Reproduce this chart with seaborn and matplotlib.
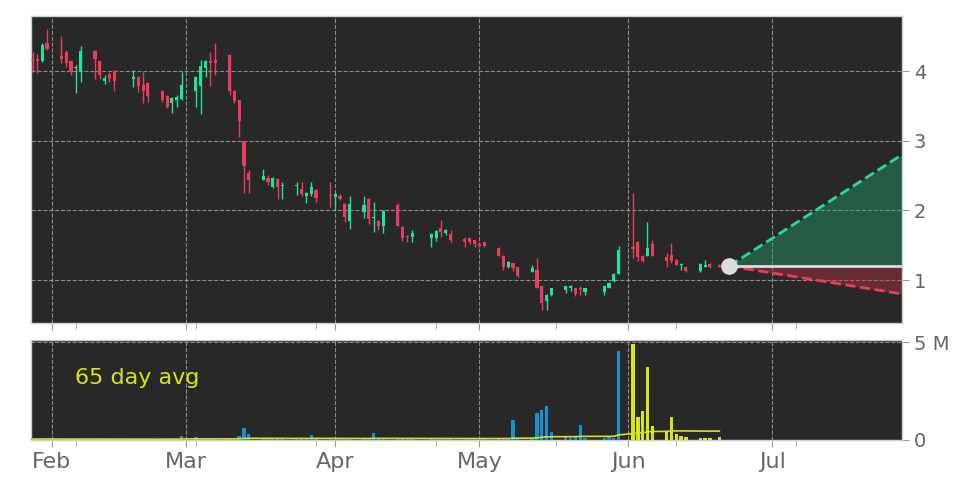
import numpy as np
import pandas as pd
import matplotlib
matplotlib.use("Agg")
import matplotlib.pyplot as plt
import matplotlib.dates as mdates
from matplotlib.ticker import MultipleLocator, FuncFormatter
import seaborn as sns

# ======================
# DATA
# ======================
dates = [
    "2025-01-28", "2025-01-29", "2025-01-30", "2025-01-31",
    "2025-02-03", "2025-02-04", "2025-02-05", "2025-02-06", "2025-02-07",
    "2025-02-10", "2025-02-11", "2025-02-12", "2025-02-13", "2025-02-14",
    "2025-02-18", "2025-02-19", "2025-02-20", "2025-02-21",
    "2025-02-24", "2025-02-25", "2025-02-26", "2025-02-27", "2025-02-28",
    "2025-03-03", "2025-03-04", "2025-03-05", "2025-03-06", "2025-03-07",
    "2025-03-10", "2025-03-11", "2025-03-12", "2025-03-13", "2025-03-14",
    "2025-03-17", "2025-03-18", "2025-03-19", "2025-03-20", "2025-03-21",
    "2025-03-24", "2025-03-25", "2025-03-26", "2025-03-27", "2025-03-28",
    "2025-03-31", "2025-04-01", "2025-04-02", "2025-04-03", "2025-04-04",
    "2025-04-07", "2025-04-08", "2025-04-09", "2025-04-10", "2025-04-11",
    "2025-04-14", "2025-04-15", "2025-04-16", "2025-04-17",
    "2025-04-21", "2025-04-22", "2025-04-23", "2025-04-24", "2025-04-25",
    "2025-04-28", "2025-04-29", "2025-04-30", "2025-05-01", "2025-05-02",
    "2025-05-05", "2025-05-06", "2025-05-07", "2025-05-08", "2025-05-09",
    "2025-05-12", "2025-05-13", "2025-05-14", "2025-05-15", "2025-05-16",
    "2025-05-19", "2025-05-20", "2025-05-21", "2025-05-22", "2025-05-23",
    "2025-05-27", "2025-05-28", "2025-05-29", "2025-05-30",
    "2025-06-02", "2025-06-03", "2025-06-04", "2025-06-05", "2025-06-06",
    "2025-06-09", "2025-06-10", "2025-06-11", "2025-06-12", "2025-06-13",
    "2025-06-16", "2025-06-17", "2025-06-18", "2025-06-20",
]
opens = [
    4.18, 4.18, 4.15, 4.40,
    4.21, 4.28, 4.14, 4.04, 3.98,
    4.29, 4.14, 3.86, 3.96, 4.00,
    3.89, 3.92, 3.80, 3.83,
    3.72, 3.64, 3.54, 3.59, 3.60,
    3.71, 3.78, 4.05, 4.14, 4.16,
    4.23, 3.72, 3.58, 2.99, 2.54,
    2.43, 2.47, 2.33, 2.45, 2.35,
    2.35, 2.31, 2.20, 2.23, 2.29,
    2.22, 2.19, 2.21, 2.09, 1.85,
    1.97, 2.17, 1.89, 1.85, 1.78,
    2.08, 1.76, 1.63, 1.62,
    1.61, 1.60, 1.74, 1.68, 1.66,
    1.59, 1.61, 1.57, 1.51, 1.54,
    1.46, 1.34, 1.18, 1.24, 1.18,
    1.12, 1.15, 0.91, 0.70, 0.78,
    0.86, 0.89, 0.88, 0.89, 0.83,
    0.83, 0.89, 0.98, 1.09,
    1.48, 1.54, 1.35, 1.35, 1.52,
    1.33, 1.36, 1.29, 1.21, 1.18,
    1.13, 1.18, 1.23, 1.22,
]
highs = [
    4.28, 4.25, 4.40, 4.61,
    4.50, 4.30, 4.16, 4.09, 4.36,
    4.30, 4.15, 3.94, 3.99, 4.01,
    4.01, 3.93, 3.99, 3.85,
    3.73, 3.65, 3.63, 3.65, 3.99,
    3.93, 4.16, 4.16, 4.28, 4.40,
    4.24, 3.73, 3.59, 3.00, 2.58,
    2.60, 2.51, 2.48, 2.46, 2.40,
    2.41, 2.41, 2.27, 2.41, 2.30,
    2.40, 2.25, 2.24, 2.10, 2.20,
    2.20, 2.18, 2.12, 1.86, 2.00,
    2.11, 1.77, 1.65, 1.72,
    1.67, 1.72, 1.86, 1.73, 1.72,
    1.62, 1.61, 1.58, 1.55, 1.55,
    1.47, 1.36, 1.27, 1.25, 1.19,
    1.22, 1.32, 0.92, 0.80, 0.89,
    0.92, 0.93, 0.89, 0.91, 0.89,
    0.92, 0.97, 1.10, 1.49,
    2.25, 1.56, 1.36, 1.84, 1.57,
    1.39, 1.53, 1.30, 1.24, 1.19,
    1.24, 1.29, 1.24, 1.23,
]
lows = [
    3.98, 3.97, 4.13, 4.30,
    4.11, 4.06, 3.94, 3.69, 3.85,
    3.89, 3.89, 3.81, 3.85, 3.72,
    3.77, 3.70, 3.54, 3.56,
    3.56, 3.47, 3.40, 3.48, 3.58,
    3.48, 3.39, 3.92, 3.78, 3.94,
    3.65, 3.54, 3.05, 2.25, 2.25,
    2.43, 2.36, 2.32, 2.17, 2.16,
    2.22, 2.21, 2.10, 2.20, 2.12,
    2.05, 2.00, 2.15, 1.84, 1.73,
    1.89, 1.81, 1.69, 1.72, 1.67,
    1.77, 1.56, 1.55, 1.55,
    1.48, 1.56, 1.62, 1.65, 1.55,
    1.48, 1.52, 1.47, 1.47, 1.47,
    1.34, 1.14, 1.17, 1.13, 1.05,
    1.12, 0.88, 0.57, 0.57, 0.77,
    0.81, 0.84, 0.77, 0.78, 0.78,
    0.78, 0.88, 0.97, 1.08,
    1.31, 1.27, 1.26, 1.34, 1.34,
    1.18, 1.24, 1.21, 1.14, 1.12,
    1.12, 1.18, 1.17, 1.18,
]
closes = [
    4.16, 4.15, 4.38, 4.31,
    4.18, 4.11, 3.99, 4.06, 4.29,
    4.17, 3.94, 3.90, 3.88, 3.86,
    3.90, 3.78, 3.72, 3.64,
    3.58, 3.49, 3.62, 3.63, 3.80,
    3.92, 4.07, 4.15, 4.12, 4.12,
    3.72, 3.57, 3.29, 2.63, 2.44,
    2.49, 2.41, 2.47, 2.33, 2.37,
    2.36, 2.23, 2.25, 2.33, 2.18,
    2.20, 2.24, 2.17, 1.91, 2.09,
    2.08, 1.88, 1.90, 1.78, 1.99,
    1.78, 1.60, 1.62, 1.68,
    1.66, 1.71, 1.69, 1.72, 1.57,
    1.54, 1.55, 1.52, 1.49, 1.49,
    1.35, 1.18, 1.26, 1.17, 1.06,
    1.17, 0.89, 0.67, 0.79, 0.88,
    0.91, 0.91, 0.80, 0.87, 0.88,
    0.91, 0.96, 1.09, 1.43,
    1.45, 1.33, 1.28, 1.46, 1.35,
    1.28, 1.28, 1.22, 1.23, 1.13,
    1.23, 1.22, 1.18, 1.19,
]
volumes_m = [
    0.05, 0.04, 0.06, 0.05,
    0.04, 0.03, 0.05, 0.04, 0.06,
    0.05, 0.04, 0.03, 0.04, 0.05,
    0.03, 0.04, 0.05, 0.04,
    0.04, 0.05, 0.06, 0.05, 0.22,
    0.17, 0.06, 0.05, 0.04, 0.05,
    0.08, 0.07, 0.20, 0.60, 0.29,
    0.05, 0.04, 0.05, 0.04, 0.05,
    0.04, 0.05, 0.04, 0.26, 0.05,
    0.04, 0.05, 0.04, 0.05, 0.06,
    0.05, 0.06, 0.37, 0.05, 0.04,
    0.05, 0.04, 0.03, 0.04,
    0.04, 0.05, 0.04, 0.03, 0.04,
    0.05, 0.04, 0.05, 0.04, 0.05,
    0.06, 0.08, 0.07, 1.02, 0.09,
    0.10, 1.39, 1.53, 1.73, 0.43,
    0.14, 0.12, 0.13, 0.77, 0.12,
    0.12, 0.13, 0.12, 4.54,
    4.93, 1.19, 1.48, 3.74, 0.73,
    0.46, 1.19, 0.32, 0.22, 0.17,
    0.12, 0.12, 0.12, 0.17,
]
highlight_from = "2025-06-01"   # volume bars from here on drawn in yellow
avg_window = 65

# projection cone
proj_start = "2025-06-22"
proj_end = "2025-07-28"
proj_base = 1.20
proj_high = 2.80
proj_low = 0.80

x_range = ("2025-01-27 16:00", "2025-07-28 00:00")
price_range = (0.38, 4.79)
volume_range = (0, 5.1e6)

# ======================
# STYLE
# ======================
BG = "#282828"
GREEN = "#22e39a"
RED = "#ec3c5a"
BLUE = "#1b8fd2"
YELLOW = "#d7e41a"
LABEL = "#666666"

sns.set_style("dark")
plt.rcParams['font.family'] = ['DejaVu Sans']

d = pd.to_datetime(dates)
x = mdates.date2num(d)
o = np.array(opens)
h = np.array(highs)
l = np.array(lows)
c = np.array(closes)
vol = np.array(volumes_m) * 1e6

fig = plt.figure(figsize=(9.72, 4.86), dpi=100)
ax = fig.add_axes([0.0319, 0.335, 0.8961, 0.632])
axv = fig.add_axes([0.0319, 0.0947, 0.8961, 0.2053], sharex=ax)

for a in (ax, axv):
    a.set_facecolor(BG)
    for s in a.spines.values():
        s.set_color("#cfcfcf")
        s.set_linewidth(1)

# ======================
# CANDLES
# ======================
cols = np.where(c >= o, GREEN, RED)
ax.vlines(x, l, h, colors=cols, lw=1, zorder=3)
ax.bar(x, np.maximum(np.abs(c - o), 0.018), bottom=np.minimum(o, c),
       width=0.65, color=cols, lw=0, zorder=4)

# projection cone
px = mdates.date2num(pd.to_datetime([proj_start, proj_end]))
ax.fill_between(px, [proj_base, proj_base], [proj_base, proj_high],
                color="#1fa870", alpha=0.4, lw=0, zorder=2)
ax.fill_between(px, [proj_base, proj_low], [proj_base, proj_base],
                color="#c83248", alpha=0.4, lw=0, zorder=2)
sns.lineplot(x=px, y=[proj_base, proj_high], ax=ax, color="#2ad69a",
             lw=2, linestyle="--", zorder=5)
sns.lineplot(x=px, y=[proj_base, proj_low], ax=ax, color="#ec3c5a",
             lw=2, linestyle="--", zorder=5)
ax.plot(px, [proj_base, proj_base], color="#dddddd", lw=2, zorder=5)
ax.plot(px[0], proj_base, "o", ms=11, color="#dddddd", zorder=6)

# ======================
# VOLUME
# ======================
vcols = np.where(d >= pd.Timestamp(highlight_from), YELLOW, BLUE)
axv.bar(x, vol, width=0.7, color=vcols, lw=0, zorder=3)
avg = pd.Series(vol).rolling(avg_window, min_periods=1).mean()
sns.lineplot(x=x, y=avg.values, ax=axv, color=YELLOW, lw=1.2, zorder=4)
axv.text(0.05, 0.62, "65 day avg", transform=axv.transAxes,
         color=YELLOW, fontsize=16, va="center")

# ======================
# AXES
# ======================
ax.set_xlim(mdates.date2num(pd.to_datetime(list(x_range))))
ax.set_ylim(price_range)
axv.set_ylim(volume_range)

for a in (ax, axv):
    a.xaxis.set_major_locator(mdates.MonthLocator())
    a.xaxis.set_major_formatter(mdates.DateFormatter("%b"))
    a.xaxis.set_minor_locator(MultipleLocator(25))
    a.grid(True, which="major", ls="--", color="#b8b8b8", lw=0.8, alpha=0.7)
    a.tick_params(axis="x", which="both", bottom=True, colors="#999999",
                  labelcolor=LABEL, labelsize=16)
    a.tick_params(axis="x", which="major", length=5)
    a.tick_params(axis="x", which="minor", length=4)
    a.tick_params(axis="y", left=False, labelleft=False, right=True,
                  labelright=True, length=5, colors="#999999",
                  labelcolor=LABEL, labelsize=14)
    a.set_xlabel("")
    a.set_ylabel("")
ax.tick_params(axis="x", which="both", labelbottom=False)

ax.set_yticks([1, 2, 3, 4])
axv.set_yticks([0, 5e6])
axv.yaxis.set_major_formatter(
    FuncFormatter(lambda v, p: "0" if v == 0 else f"{v / 1e6:.0f} M"))

fig.savefig("out.png", dpi=100, facecolor="white")
